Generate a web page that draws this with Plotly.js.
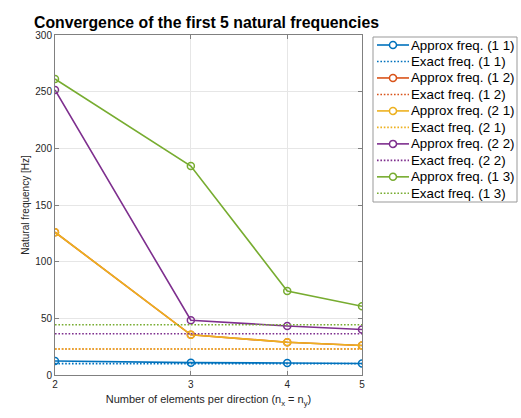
<!DOCTYPE html>
<html>
<head>
<meta charset="utf-8">
<script src="https://cdn.plot.ly/plotly-3.0.1.min.js"></script>
<style>html,body{margin:0;padding:0;background:#fff;}#chart{width:521px;height:418px;}</style>
</head>
<body>
<div id="chart"></div>
<script>
// Number of elements per direction
const nElems = [2, 3, 4, 5];

// Approximate frequencies [Hz]
const approx11 = [12.4, 10.9, 10.6, 10.2];
const approx12 = [126, 35.5, 28.9, 26.0];
const approx21 = [126, 35.5, 28.9, 26.0];
const approx22 = [251.5, 48.3, 43.3, 40.1];
const approx13 = [261.2, 184.4, 74.2, 60.7];

// Exact frequencies [Hz]
const exact11 = 10.0;
const exact12 = 23.0;
const exact21 = 23.0;
const exact22 = 36.4;
const exact13 = 44.4;

const modeLabels = ['(1 1)', '(1 2)', '(2 1)', '(2 2)', '(1 3)'];
const colors = ['#0072BD', '#D95319', '#EDB120', '#7E2F8E', '#77AC30'];
const approxSeries = [approx11, approx12, approx21, approx22, approx13];
const exactSeries = [exact11, exact12, exact21, exact22, exact13];

const DOT = '1.6px,1.8px';
const traces = [];
for (let i = 0; i < modeLabels.length; i++) {
  traces.push({
    x: nElems, y: approxSeries[i], type: 'scatter', mode: 'lines+markers',
    name: 'Approx freq. ' + modeLabels[i], showlegend: false,
    line: {color: colors[i], width: 1.6},
    marker: {symbol: 'circle-open', size: 7, color: colors[i], line: {width: 1.5, color: colors[i]}}
  });
  traces.push({
    x: nElems, y: nElems.map(() => exactSeries[i]), type: 'scatter', mode: 'lines',
    name: 'Exact freq. ' + modeLabels[i], showlegend: false,
    line: {color: colors[i], width: 1.6, dash: DOT}
  });
}

// Legend drawn as paper-positioned shapes + text annotations (layout geometry)
const W = 521, H = 418, ML = 55, MR = 159, MT = 35, MB = 43;
const PW = W - ML - MR, PH = H - MT - MB;
const px = v => (v - ML) / PW;
const py = v => (H - MB - v) / PH;
const shapes = [{
  type: 'rect', xref: 'paper', yref: 'paper',
  x0: px(373), x1: px(517), y0: py(202), y1: py(37),
  line: {color: '#999999', width: 1}, fillcolor: '#ffffff', layer: 'above'
}];
const annotations = [];
let row = 0;
traces.forEach(t => {
  const cy = 45 + 16.48 * row;
  shapes.push({
    type: 'line', xref: 'paper', yref: 'paper', layer: 'above',
    x0: px(377), x1: px(409), y0: py(cy), y1: py(cy),
    line: {color: t.line.color, width: 1.6, dash: t.line.dash || 'solid'}
  });
  if (t.mode.indexOf('markers') >= 0) {
    shapes.push({
      type: 'circle', xref: 'paper', yref: 'paper', layer: 'above',
      xsizemode: 'pixel', ysizemode: 'pixel',
      xanchor: px(393), yanchor: py(cy),
      x0: -3.5, x1: 3.5, y0: -3.5, y1: 3.5,
      line: {color: t.line.color, width: 1.5}, fillcolor: '#ffffff'
    });
  }
  annotations.push({
    xref: 'paper', yref: 'paper', x: px(410), y: py(cy),
    xanchor: 'left', yanchor: 'middle', showarrow: false,
    text: t.name, font: {size: 13.3, color: '#000000'}, borderpad: 0
  });
  row++;
});

const layout = {
  width: W, height: H,
  margin: {l: ML, r: MR, t: MT, b: MB},
  paper_bgcolor: '#ffffff', plot_bgcolor: '#ffffff',
  font: {family: 'Liberation Sans, Arial, sans-serif', color: '#262626'},
  title: {text: '<b>Convergence of the first 5 natural frequencies</b>', x: 0.3964, xanchor: 'center', y: 0.9465, yanchor: 'middle',
          font: {size: 15.8, color: '#000000', family: 'Liberation Sans, Arial, sans-serif'}},
  xaxis: {
    type: 'log', range: [Math.log10(2), Math.log10(5)],
    tickvals: nElems, ticktext: nElems.map(String),
    showgrid: true, gridcolor: '#e6e6e6', gridwidth: 1,
    showline: true, linecolor: '#808080', linewidth: 1, mirror: 'ticks',
    ticks: 'inside', ticklen: 4, tickcolor: '#808080',
    tickfont: {size: 10, color: '#262626'},
    zeroline: false,
    title: {text: 'Number of elements per direction (n<sub>x</sub> = n<sub>y</sub>)', font: {size: 11, color: '#262626'}, standoff: 6}
  },
  yaxis: {
    range: [0, 300], tickvals: [0, 50, 100, 150, 200, 250, 300],
    showgrid: true, gridcolor: '#e6e6e6', gridwidth: 1,
    showline: true, linecolor: '#808080', linewidth: 1, mirror: 'ticks',
    ticks: 'inside', ticklen: 4, tickcolor: '#808080',
    tickfont: {size: 10, color: '#262626'},
    zeroline: false,
    title: {text: 'Natural frequency [Hz]', font: {size: 10, color: '#262626'}, standoff: 3}
  },
  showlegend: false,
  shapes: shapes,
  annotations: annotations
};

Plotly.newPlot('chart', traces, layout, {displayModeBar: false, staticPlot: true});
</script>
</body>
</html>
